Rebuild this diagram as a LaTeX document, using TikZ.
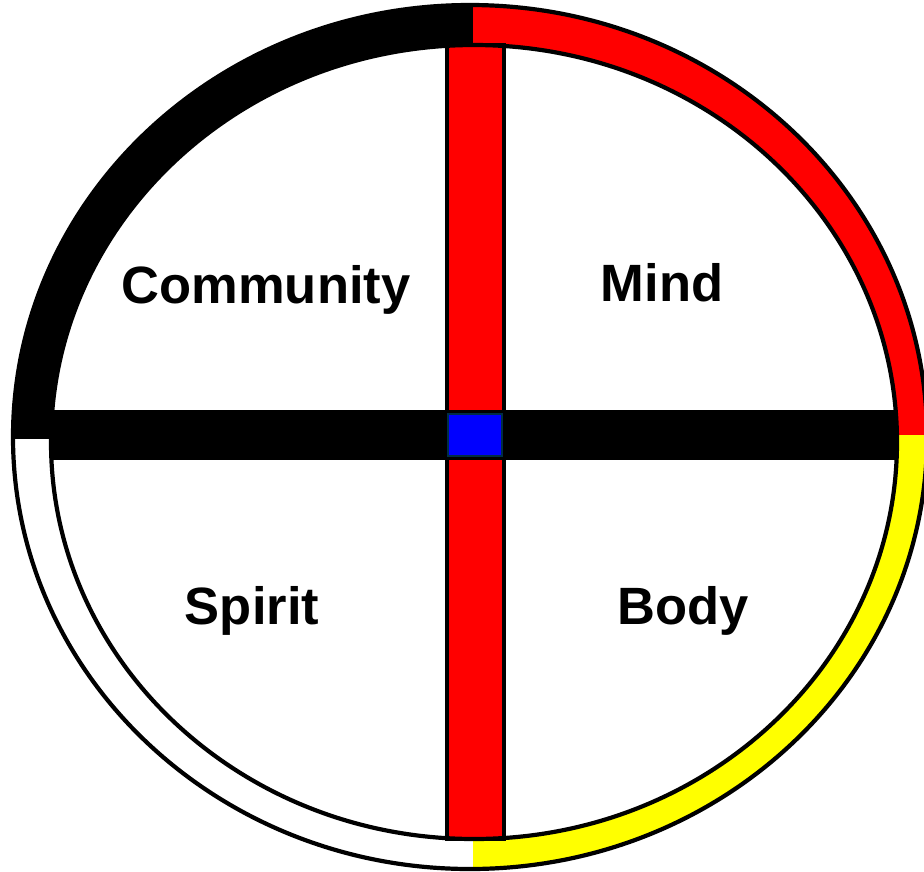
\documentclass[tikz,border=0pt]{standalone}
\usepackage{fontspec}
\setmainfont{Liberation Sans}
\definecolor{wred}{RGB}{255,0,0}
\definecolor{wyellow}{RGB}{255,255,0}
\definecolor{wblue}{RGB}{0,0,255}
\definecolor{wedge}{RGB}{0,45,70}
\begin{document}
\begin{tikzpicture}[x=1pt,y=-1pt,
  quarter/.style={font=\fontsize{52.5}{60}\selectfont\bfseries, anchor=base, inner sep=0pt},
  ringline/.style={draw=black, line width=4.2pt}]
\useasboundingbox (0,0) rectangle (924,871);
\fill[white] (0,0) rectangle (924,871);
% ring quarters
\begin{scope}[even odd rule]
  \clip (470,437) ellipse [x radius=457pt, y radius=432pt]
        (474,442) ellipse [x radius=423pt, y radius=397pt];
  \fill[black]   (0,0)     rectangle (473,439);
  \fill[white]   (0,439)   rectangle (473,871);
  \fill[wred]    (473,0)   rectangle (924,435);
  \fill[wyellow] (473,435) rectangle (924,871);
\end{scope}
% vertical red bar
\filldraw[fill=wred, draw=black, line width=4pt] (446.5,45) rectangle (503.5,839);
% horizontal black bar
\fill[black] (50,410) rectangle (898,460);
% centre square
\filldraw[fill=wblue, draw=wedge, line width=2pt] (448,414) rectangle (502,456);
% ring outlines
\draw[ringline] (470,437) ellipse [x radius=457pt, y radius=432pt];
\draw[ringline] (474,442) ellipse [x radius=423pt, y radius=397pt];
% labels
\node[quarter] (community) at (266,303) {Community};
\node[quarter] (mind)      at (662,301) {Mind};
\node[quarter] (spirit)    at (252,624) {Spirit};
\node[quarter] (body)      at (683,624) {Body};
\end{tikzpicture}
\end{document}
